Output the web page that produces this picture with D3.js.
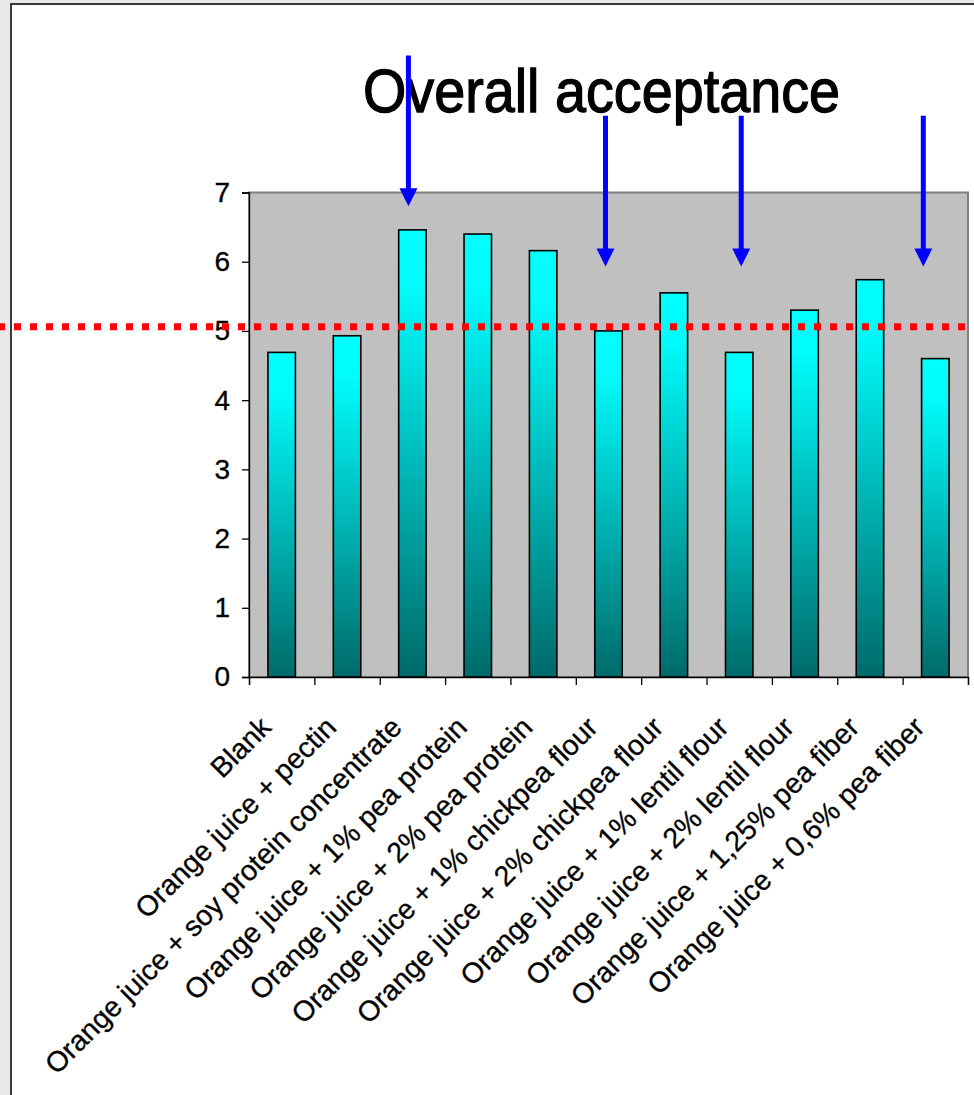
<!DOCTYPE html>
<html>
<head>
<meta charset="utf-8">
<script src="https://cdn.jsdelivr.net/npm/d3@7"></script>
<style>
  html, body { margin: 0; padding: 0; background: #e9e9e9; }
  svg { display: block; }
</style>
</head>
<body>
<script>
// Overall acceptance scores per formulation
const categories = [
  "Blank",
  "Orange juice + pectin",
  "Orange juice + soy protein concentrate",
  "Orange juice + 1% pea protein",
  "Orange juice + 2% pea protein",
  "Orange juice + 1% chickpea flour",
  "Orange juice + 2% chickpea flour",
  "Orange juice + 1% lentil flour",
  "Orange juice + 2% lentil flour",
  "Orange juice + 1,25% pea fiber",
  "Orange juice + 0,6% pea fiber"
];
const values = [4.69, 4.93, 6.46, 6.40, 6.16, 5.00, 5.55, 4.69, 5.30, 5.74, 4.60];
const yTicks = [0, 1, 2, 3, 4, 5, 6, 7];
const referenceLevel = 5.06;
// Highlighted formulations: arrow start / tip expressed in score units
const arrowCategories = [2, 5, 7, 10];
const arrowFrom = [8.98, 8.11, 8.11, 8.11];
const arrowTo = [6.80, 5.93, 5.93, 5.93];
const arrowShift = [-4, -3, 2, -12];
const titleText = "Overall acceptance";

const W = 974, H = 1095;
const plot = { left: 249, right: 968, top: 192.5, bottom: 677 };
const labelFont = "'Liberation Sans', Arial, sans-serif";

const svg = d3.select("body").append("svg")
  .attr("width", W).attr("height", H);

const defs = svg.append("defs");
const grad = defs.append("linearGradient")
  .attr("id", "barFill").attr("x1", 0).attr("y1", 0).attr("x2", 0).attr("y2", 1);
grad.append("stop").attr("offset", "0%").attr("stop-color", "#00ffff");
grad.append("stop").attr("offset", "12%").attr("stop-color", "#00fcfc");
grad.append("stop").attr("offset", "100%").attr("stop-color", "#006a6a");

// slide background and white panel
svg.append("rect").attr("width", W).attr("height", H).attr("fill", "#e8e8e8");
svg.append("rect")
  .attr("x", 11).attr("y", 4).attr("width", W + 10).attr("height", H + 10)
  .attr("fill", "#ffffff").attr("stroke", "#3a3a3a").attr("stroke-width", 2);

const x = d3.scaleBand().domain(d3.range(categories.length))
  .range([plot.left, plot.right]).padding(0);
const y = d3.scaleLinear().domain([0, 7]).range([plot.bottom, plot.top]);

const barW = x.bandwidth() * 0.42;

// plot area
svg.append("rect")
  .attr("x", plot.left).attr("y", plot.top)
  .attr("width", plot.right - plot.left).attr("height", plot.bottom - plot.top)
  .attr("fill", "#c0c0c0").attr("stroke", "#808080").attr("stroke-width", 2);

// bars
svg.append("g").selectAll("rect").data(values).join("rect")
  .attr("x", (d, i) => x(i) + x.bandwidth() / 2 - barW / 2)
  .attr("y", d => y(d))
  .attr("width", barW)
  .attr("height", d => y(0) - y(d))
  .attr("fill", "url(#barFill)")
  .attr("stroke", "#000").attr("stroke-width", 1.6);

// y axis
const yAxis = svg.append("g")
  .attr("transform", `translate(${plot.left},0)`)
  .call(d3.axisLeft(y).tickValues(yTicks).tickFormat(d3.format("d")).tickSize(7).tickPadding(12));
yAxis.select(".domain").attr("stroke", "#000").attr("stroke-width", 1.3);
yAxis.selectAll(".tick line").attr("stroke", "#000").attr("stroke-width", 1.3);
yAxis.selectAll("text")
  .attr("font-family", labelFont)
  .attr("font-size", 28).attr("fill", "#000")
  .attr("stroke", "#000").attr("stroke-width", 0.3);

// x axis with ticks between categories
const xEdges = d3.scaleLinear().domain([0, categories.length]).range([plot.left, plot.right]);
const xAxis = svg.append("g")
  .attr("transform", `translate(0,${plot.bottom})`)
  .call(d3.axisBottom(xEdges).tickValues(d3.range(categories.length + 1)).tickSize(8).tickFormat(""));
xAxis.select(".domain").attr("stroke", "#000").attr("stroke-width", 1.3);
xAxis.selectAll(".tick line").attr("stroke", "#000").attr("stroke-width", 1.3);

// rotated category labels
svg.append("g").selectAll("text").data(categories).join("text")
  .attr("transform", (d, i) =>
    `translate(${x(i) + x.bandwidth() / 2 - 9},${plot.bottom + 52}) rotate(-45)`)
  .attr("text-anchor", "end")
  .attr("font-family", labelFont)
  .attr("font-size", 28.5).attr("fill", "#000")
  .attr("stroke", "#000").attr("stroke-width", 0.3)
  .text(d => d);

// reference level
svg.append("line")
  .attr("x1", -2).attr("x2", W)
  .attr("y1", y(referenceLevel)).attr("y2", y(referenceLevel))
  .attr("stroke", "#ff0000").attr("stroke-width", 7)
  .attr("stroke-dasharray", "7 9");

// title
svg.append("text")
  .attr("x", 363).attr("y", 112)
  .attr("font-family", "'Liberation Sans Narrow', 'Arial Narrow', 'Liberation Sans', sans-serif")
  .attr("font-size", 62).attr("fill", "#000")
  .attr("stroke", "#000").attr("stroke-width", 1.3)
  .attr("textLength", 477).attr("lengthAdjust", "spacingAndGlyphs")
  .text(titleText);

// arrows marking selected formulations
const arrows = svg.append("g");
arrowCategories.forEach((c, k) => {
  const ax = x(c) + x.bandwidth() / 2 + arrowShift[k];
  const y0 = y(arrowFrom[k]);
  const tip = y(arrowTo[k]);
  const headH = 18, headW = 18;
  arrows.append("line")
    .attr("x1", ax).attr("x2", ax)
    .attr("y1", y0).attr("y2", tip - headH + 1)
    .attr("stroke", "#0000ff").attr("stroke-width", 5);
  arrows.append("path")
    .attr("d", `M${ax - headW / 2},${tip - headH} L${ax + headW / 2},${tip - headH} L${ax},${tip} Z`)
    .attr("fill", "#0000ff");
});
</script>
</body>
</html>
